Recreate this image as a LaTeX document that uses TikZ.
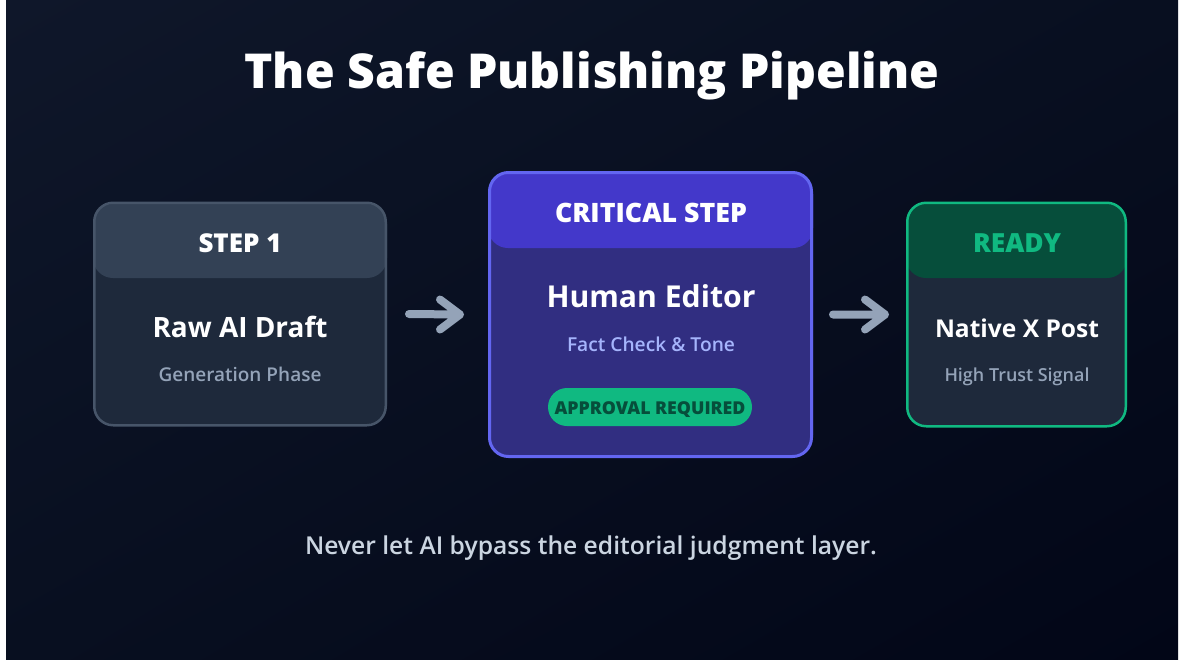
\documentclass[tikz,border=0pt]{standalone}
\usepackage{fontspec}
\setmainfont{Open Sans}
\newcommand\tryheavy[1]{\ifx\heavyfam\undefined\IfFontExistsTF{#1}{\newfontfamily\heavyfam{#1}}{}\fi}
\newcommand\trymed[1]{\ifx\medfam\undefined\IfFontExistsTF{#1}{\newfontfamily\medfam{#1}}{}\fi}
\tryheavy{Noto Sans ExtraBold}
\tryheavy{Noto Sans Black}
\tryheavy{Open Sans Extrabold}
\tryheavy{Fira Sans ExtraBold}
\tryheavy{Fira Sans Heavy}
\tryheavy{Lato Black}
\tryheavy{Lato Heavy}
\tryheavy{Poppins ExtraBold}
\ifx\heavyfam\undefined\newfontfamily\heavyfam{Open Sans Bold}\fi
\trymed{Noto Sans Medium}
\trymed{Open Sans SemiBold}
\trymed{Open Sans Semibold}
\trymed{Fira Sans Medium}
\trymed{Lato Medium}
\ifx\medfam\undefined\newfontfamily\medfam{Open Sans}\fi
\usetikzlibrary{calc,shadings}
\definecolor{bgA}{HTML}{0F172A}
\definecolor{bgM}{HTML}{080F20}
\definecolor{bgB}{HTML}{020617}
\definecolor{slateH}{HTML}{334155}
\definecolor{slateB}{HTML}{1E293B}
\definecolor{slateE}{HTML}{475569}
\definecolor{indH}{HTML}{4338CA}
\definecolor{indB}{HTML}{312E81}
\definecolor{indE}{HTML}{6366F1}
\definecolor{grnH}{HTML}{064E3B}
\definecolor{grnE}{HTML}{10B981}
\definecolor{grnT}{HTML}{064E3B}
\definecolor{subg}{HTML}{94A3B8}
\definecolor{subi}{HTML}{A5B4FC}
\definecolor{foot}{HTML}{CBD5E1}
\definecolor{arrowc}{HTML}{94A3B8}
\newlength\fitlen
\newcommand\fitw[3]{\settowidth\fitlen{\fontsize{10pt}{12pt}\selectfont#2#3}%
  \pgfmathsetmacro\fitsz{10*#1/\fitlen}%
  \fontsize{\fitsz pt}{\fitsz pt}\selectfont#2#3}
\tikzset{
  card/.style={inner sep=0, outer sep=0, rounded corners=20},
  txt/.style={inner sep=0, outer sep=0, anchor=base, text=white},
  arr/.style={draw=arrowc, line width=8, line cap=round, line join=round},
}
\begin{document}
\begin{tikzpicture}[x=1pt,y=-1pt]
\useasboundingbox (0,0) rectangle (1184,659);
\fill[white] (0,0) rectangle (1184,659);
\shade[upper left=bgA, upper right=bgM, lower left=bgM, lower right=bgB] (6,0) rectangle (1178,659);

% cards
\node[card, fill=slateB, minimum width=294, minimum height=220] (s1) at (240,314) {};
\node[card, fill=indB, minimum width=325, minimum height=281] (s2) at (650.5,314.5) {};
\node[card, fill=slateB, minimum width=221, minimum height=221] (s3) at (1016.5,314.5) {};

\foreach \n/\c in {s1/slateH, s2/indH, s3/grnH}{
  \begin{scope}
    \clip[rounded corners=20] (\n.north west) rectangle (\n.south east);
    \fill[\c, rounded corners=20] (\n.north west) rectangle ([yshift=-74]\n.north east);
  \end{scope}
}
\draw[slateE, line width=2.5, rounded corners=19] ([shift={(1.25,-1.25)}]s1.north west) rectangle ([shift={(-1.25,1.25)}]s1.south east);
\draw[indE, line width=3, rounded corners=19] ([shift={(1.5,-1.5)}]s2.north west) rectangle ([shift={(-1.5,1.5)}]s2.south east);
\draw[grnE, line width=2.5, rounded corners=19] ([shift={(1.25,-1.25)}]s3.north west) rectangle ([shift={(-1.25,1.25)}]s3.south east);

% title and footer
\node[txt] (title) at (592,88) {\fitw{695}{\heavyfam}{The Safe Publishing Pipeline}};
\node[txt, text=foot] (footer) at (591,554) {\fitw{572}{\medfam}{Never let AI bypass the editorial judgment layer.}};

% card 1 texts
\node[txt] (s1h) at (240,252) {\fitw{83}{\heavyfam}{STEP 1}};
\node[txt] (s1t) at (240,337) {\fitw{175}{\bfseries}{Raw AI Draft}};
\node[txt, text=subg] (s1s) at (240,381) {\fitw{163}{\medfam}{Generation Phase}};

% card 2 texts
\node[txt] (s2h) at (651,222) {\fitw{192}{\heavyfam}{CRITICAL STEP}};
\node[txt] (s2t) at (651,307) {\fitw{209}{\bfseries}{Human Editor}};
\node[txt, text=subi] (s2s) at (651,351) {\fitw{168}{\medfam}{Fact Check \& Tone}};
\node[fill=grnE, rounded corners=19, minimum width=204, minimum height=38, inner sep=0] (pill) at (650,407) {};
\node[txt, text=grnT] (pillt) at (650,414) {\fitw{191}{\heavyfam}{APPROVAL REQUIRED}};

% card 3 texts
\node[txt, text=grnE] (s3h) at (1017,252) {\fitw{88}{\heavyfam}{READY}};
\node[txt] (s3t) at (1017,337) {\fitw{164}{\bfseries}{Native X Post}};
\node[txt, text=subg] (s3s) at (1017,381) {\fitw{145}{\medfam}{High Trust Signal}};

% arrows
\draw[arr] ([xshift=22]s1.east) -- ([xshift=-28]s2.west)
  ([xshift=-48,yshift=15]s2.west) -- ([xshift=-28]s2.west) -- ([xshift=-48,yshift=-15]s2.west);
\draw[arr] ([xshift=20]s2.east) -- ([xshift=-21]s3.west)
  ([xshift=-41,yshift=15]s3.west) -- ([xshift=-21]s3.west) -- ([xshift=-41,yshift=-15]s3.west);
\end{tikzpicture}
\end{document}
